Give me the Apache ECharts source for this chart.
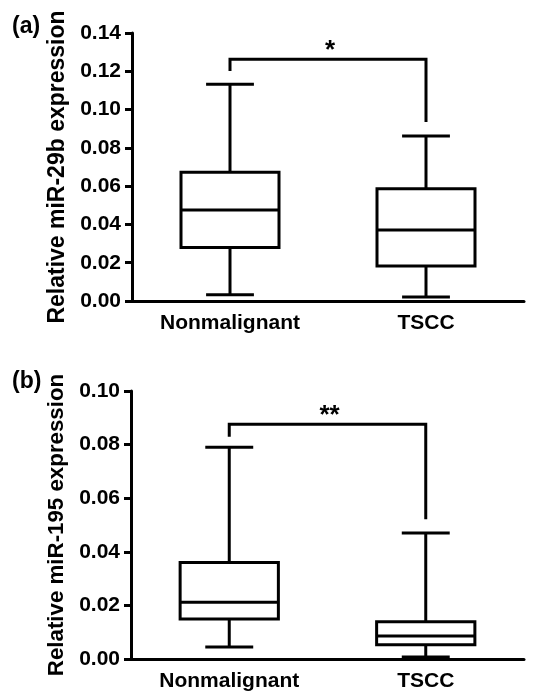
<!DOCTYPE html>
<html><head><meta charset="utf-8">
<script src="https://cdn.jsdelivr.net/npm/echarts@6/dist/echarts.min.js"></script>
<style>html,body{margin:0;padding:0;background:#fff}#c{width:535px;height:692px}</style>
</head><body><div id="c"></div>
<script>
const categories = ['Nonmalignant', 'TSCC'];
// [min, Q1, median, Q3, max]
const mir29bNonmalignant = [0.0033, 0.0279, 0.0475, 0.0672, 0.1132];
const mir29bTSCC = [0.0021, 0.0183, 0.0371, 0.0587, 0.0862];
const mir195Nonmalignant = [0.0045, 0.0149, 0.0212, 0.0360, 0.0790];
const mir195TSCC = [0.0007, 0.0053, 0.0086, 0.0139, 0.0470];
// significance bracket: [bar height, left leg end, right leg end]
const bracketA = [0.1263, 0.1201, 0.0935];
const bracketB = [0.0876, 0.0829, 0.0521];
const sigA = '*';
const sigB = '**';
const yMaxA = 0.14, yMaxB = 0.10, yStep = 0.02;
const panelLabels = ['(a)', '(b)'];
const yTitles = ['Relative miR-29b expression', 'Relative miR-195 expression'];

const FONT = 'Liberation Sans, Arial, sans-serif';
const LW = 3;

function boxRender(params, api) {
  const cat = api.value(0);
  const vals = [api.value(1), api.value(2), api.value(3), api.value(4), api.value(5)];
  const band = api.size([1, 0])[0];
  const cx = api.coord([cat, 0])[0];
  const hw = band * 0.25, cw = band * 0.122;
  const y = vals.map(v => api.coord([cat, v])[1]);
  const st = {stroke: '#000', lineWidth: LW, fill: null};
  return {type: 'group', children: [
    {type: 'line', shape: {x1: cx, y1: y[0], x2: cx, y2: y[1]}, style: st},
    {type: 'line', shape: {x1: cx, y1: y[3], x2: cx, y2: y[4]}, style: st},
    {type: 'line', shape: {x1: cx - cw, y1: y[0], x2: cx + cw, y2: y[0]}, style: st},
    {type: 'line', shape: {x1: cx - cw, y1: y[4], x2: cx + cw, y2: y[4]}, style: st},
    {type: 'rect', shape: {x: cx - hw, y: y[3], width: 2 * hw, height: y[1] - y[3]}, style: {stroke: '#000', lineWidth: LW, fill: '#fff'}},
    {type: 'line', shape: {x1: cx - hw, y1: y[2], x2: cx + hw, y2: y[2]}, style: st}
  ]};
}

function bracketRender(params, api) {
  const top = api.value(0), l = api.value(1), r = api.value(2);
  const p0 = api.coord([0, l]), p1 = api.coord([0, top]), p2 = api.coord([1, top]), p3 = api.coord([1, r]);
  const sig = params.seriesIndex === 1 ? sigA : sigB;
  return {type: 'group', children: [
    {type: 'polyline', shape: {points: [p0, p1, p2, p3]}, style: {stroke: '#000', lineWidth: LW, fill: null}},
    {type: 'text', x: (p1[0] + p2[0]) / 2 + 2, y: p1[1] + 5, style: {text: sig, fill: '#000', font: 'bold 26px ' + FONT, align: 'center', verticalAlign: 'bottom'}}
  ]};
}

function xAxis(gi) {
  return {
    type: 'category', gridIndex: gi, data: categories,
    axisLine: {lineStyle: {color: '#000', width: LW}},
    axisTick: {alignWithLabel: true, length: 7, lineStyle: {color: '#000', width: LW}},
    axisLabel: {color: '#000', fontWeight: 'bold', fontSize: 21, fontFamily: FONT, margin: 12},
    splitLine: {show: false}
  };
}
function yAxis(gi, max, title, fs) {
  return {
    type: 'value', gridIndex: gi, min: 0, max: max, interval: yStep,
    name: title, nameLocation: 'middle', nameGap: 51,
    nameTextStyle: {color: '#000', fontWeight: 'bold', fontSize: fs, fontFamily: FONT},
    axisLine: {show: true, lineStyle: {color: '#000', width: LW}},
    axisTick: {show: true, length: 7, lineStyle: {color: '#000', width: LW}},
    axisLabel: {color: '#000', fontWeight: 'bold', fontSize: 21, fontFamily: FONT, margin: 11,
      formatter: v => v.toFixed(2)},
    splitLine: {show: false}
  };
}

const chart = echarts.init(document.getElementById('c'), null, {renderer: 'canvas'});
chart.setOption({
  animation: false,
  backgroundColor: '#fff',
  grid: [
    {left: 132, top: 33, width: 392, height: 268},
    {left: 131, top: 391, width: 393, height: 268}
  ],
  xAxis: [xAxis(0), xAxis(1)],
  yAxis: [yAxis(0, yMaxA, yTitles[0], 23), yAxis(1, yMaxB, yTitles[1], 22.3)],
  graphic: [
    {type: 'text', left: 12, top: 15, style: {text: panelLabels[0], fill: '#000', font: 'bold 23px ' + FONT}},
    {type: 'text', left: 12, top: 370, style: {text: panelLabels[1], fill: '#000', font: 'bold 23px ' + FONT}}
  ],
  series: [
    {type: 'custom', xAxisIndex: 0, yAxisIndex: 0, renderItem: boxRender,
     data: [[0, ...mir29bNonmalignant], [1, ...mir29bTSCC]], encode: {x: 0, y: [1, 2, 3, 4, 5]}},
    {type: 'custom', xAxisIndex: 0, yAxisIndex: 0, renderItem: bracketRender,
     data: [bracketA], encode: {y: [0, 1, 2]}},
    {type: 'custom', xAxisIndex: 1, yAxisIndex: 1, renderItem: boxRender,
     data: [[0, ...mir195Nonmalignant], [1, ...mir195TSCC]], encode: {x: 0, y: [1, 2, 3, 4, 5]}},
    {type: 'custom', xAxisIndex: 1, yAxisIndex: 1, renderItem: bracketRender,
     data: [bracketB], encode: {y: [0, 1, 2]}}
  ]
});
</script></body></html>
